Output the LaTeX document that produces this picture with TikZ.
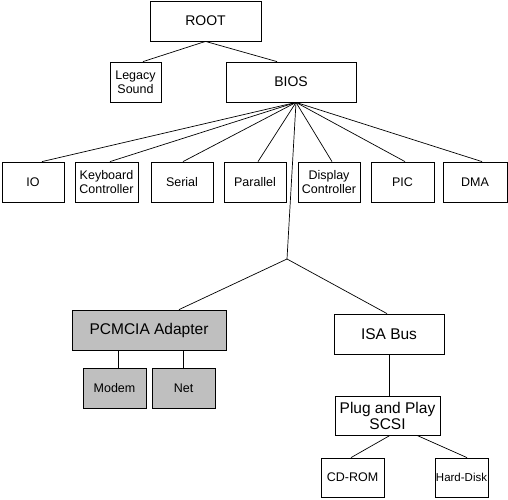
\documentclass[tikz,border=0pt]{standalone}
\usepackage{fontspec}
\setmainfont{Liberation Sans}
\begin{document}
\begin{tikzpicture}[x=1pt,y=-1pt,
  box/.style={draw=black,line width=0.8pt,fill=white,inner sep=0pt,align=center,minimum height=40pt},
  gbox/.style={box,fill=gray!50},
  big/.style={font=\fontsize{14}{15}\selectfont},
  huge/.style={font=\fontsize{15.5}{16}\selectfont},
  small/.style={font=\fontsize{12.5}{14}\selectfont},
  tiny/.style={font=\fontsize{11.5}{13}\selectfont},
  conn/.style={line width=0.7pt}]
\fill[white] (0,0) rectangle (508,499);
\useasboundingbox (0,0) rectangle (508,499);
\node[box,big,minimum width=111pt] (root) at (205.5,21) {ROOT};
\node[box,small,minimum width=51pt] (legacy) at (135.5,82) {Legacy\\Sound};
\node[box,big,minimum width=130pt] (bios) at (291,82) {BIOS};
\node[box,small,minimum width=62pt] (io) at (33,182) {IO};
\node[box,small,minimum width=63pt] (kbd) at (106.5,182) {Keyboard\\Controller};
\node[box,small,minimum width=62pt] (serial) at (182,182) {Serial};
\node[box,small,minimum width=62pt] (parallel) at (255,182) {Parallel};
\node[box,small,minimum width=62pt] (display) at (329,182) {Display\\Controller};
\node[box,small,minimum width=63pt] (pic) at (402.5,182) {PIC};
\node[box,small,minimum width=64pt] (dma) at (475,182) {DMA};
\node[gbox,huge,minimum width=154pt] (pcmcia) at (149,330) {PCMCIA Adapter};
\node[box,huge,minimum width=110pt] (isa) at (389,334) {ISA Bus};
\node[gbox,small,minimum width=63pt] (modem) at (114.5,388) {Modem};
\node[gbox,small,minimum width=63pt] (net) at (183.5,388) {Net};
\node[box,huge,minimum width=105pt,minimum height=39pt] (pnp) at (387.5,415.5) {Plug and Play\\SCSI};
\node[box,small,minimum width=63pt,minimum height=39pt] (cdrom) at (352.5,477.5) {CD-ROM};
\node[box,tiny,minimum width=53pt,minimum height=39pt] (hdd) at (461.5,477.5) {Hard-Disk};
\coordinate (bp) at ([xshift=5pt]bios.south);
\coordinate (j) at (287,259);
\draw[conn] (root.south) -- ([xshift=7.5pt]legacy.north);
\draw[conn] (root.south) -- ([xshift=-14pt]bios.north);
\draw[conn] (bp) -- ([xshift=9pt]io.north);
\draw[conn] (bp) -- ([xshift=3.5pt]kbd.north);
\draw[conn] (bp) -- ([xshift=1pt]serial.north);
\draw[conn] (bp) -- ([xshift=3pt]parallel.north);
\draw[conn] (bp) -- ([xshift=3pt]display.north);
\draw[conn] (bp) -- ([xshift=2.5pt]pic.north);
\draw[conn] (bp) -- ([xshift=7pt]dma.north);
\draw[conn] (bp) -- (j);
\draw[conn] (j) -- ([xshift=30pt]pcmcia.north);
\draw[conn] (j) -- ([xshift=-2pt]isa.north);
\draw[conn] ([xshift=3.5pt]modem.north) -- ([xshift=3.5pt]modem.north |- pcmcia.south);
\draw[conn] (net.north) -- (net.north |- pcmcia.south);
\draw[conn] (isa.south) -- (isa.south |- pnp.north);
\draw[conn] ([xshift=2.5pt]pnp.south) -- ([xshift=-1.5pt]cdrom.north);
\draw[conn] ([xshift=29.5pt]pnp.south) -- ([xshift=5.5pt]hdd.north);
\end{tikzpicture}
\end{document}
